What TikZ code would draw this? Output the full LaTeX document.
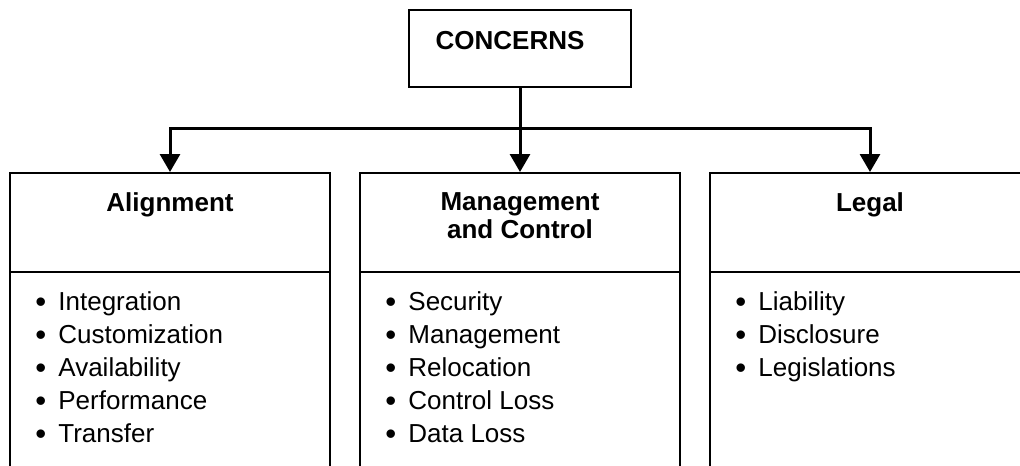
\documentclass[tikz,border=0pt]{standalone}
\usepackage{fontspec}
\setmainfont{Liberation Sans}
\usetikzlibrary{arrows.meta}
\tikzset{
  catbox/.style={draw,line width=1pt,anchor=north,minimum width=160pt,minimum height=159pt},
  boxline/.style={line width=1pt},
  head/.style={font=\bfseries\fontsize{13}{14.2}\selectfont,align=center,anchor=north,inner sep=0pt},
  items/.style={font=\fontsize{13}{16.5}\selectfont,align=left,anchor=north west,inner sep=0pt},
  conn/.style={line width=1.5pt,>={Triangle[length=9pt,width=10pt]}}
}
\begin{document}
\begin{tikzpicture}[x=0.5pt,y=-0.5pt]
\def\blt{\makebox[11.5pt][l]{\raisebox{-1.2pt}{\scalebox{1.2}{•}}}}
\useasboundingbox (0,0) rectangle (1020,465);
\clip (0,0) rectangle (1020,465);
    %Raiz
    \node[draw,line width=1pt,minimum width=111pt,minimum height=38.5pt] (concerns) at (520,48.5) {};
    \node[head,anchor=base] (concernsTxt) at (510,50) {CONCERNS};

    %Cajas
    \foreach \n/\x in {align/170,mgmt/520,legal/870}{
        \node[catbox] (\n) at (\x,172) {};
        \draw[boxline] ([yshift=-50pt]\n.north west) -- ([yshift=-50pt]\n.north east);
    }
    \node[head] (alignT) at (170,192) {Alignment};
    \node[head] (mgmtT) at (520,192) {Management\\and Control};
    \node[head] (legalT) at (870,192) {Legal};

    %Listas
    \node[items] (alignL) at (35,291) {\blt Integration\\\blt Customization\\\blt Availability\\\blt Performance\\\blt Transfer};
    \node[items] (mgmtL) at (385,291) {\blt Security\\\blt Management\\\blt Relocation\\\blt Control Loss\\\blt Data Loss};
    \node[items] (legalL) at (735,291) {\blt Liability\\\blt Disclosure\\\blt Legislations};

    %Flechas
    \coordinate (bar) at (520,128);
    \draw[conn,->] (concerns) -- (mgmt);
    \draw[conn,<->] (align.north) |- (bar) -| (legal.north);
\end{tikzpicture}
\end{document}
